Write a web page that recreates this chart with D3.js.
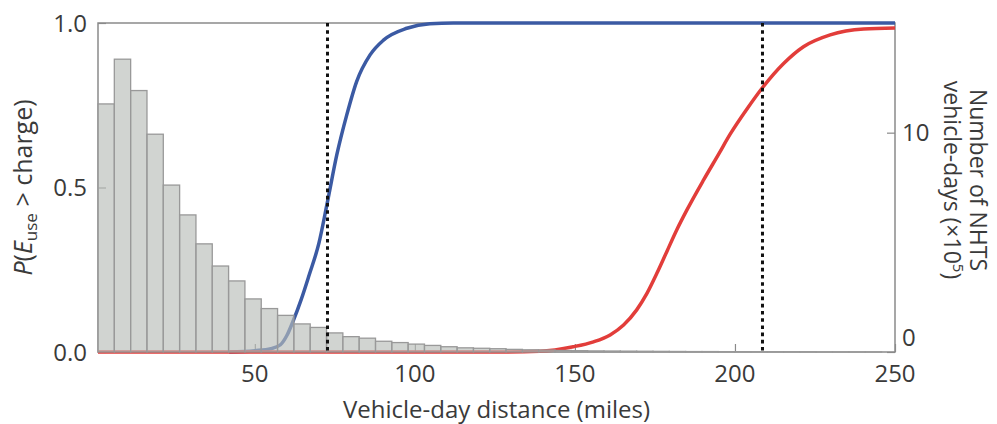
<!DOCTYPE html>
<html>
<head>
<meta charset="utf-8">
<script src="https://cdn.jsdelivr.net/npm/d3@7"></script>
<style>
  body { margin: 0; background: #fff; }
  text { font-family: "Open Sans", sans-serif; fill: #3a3a3a; }
</style>
</head>
<body>
<div id="chart"></div>
<script>
// histogram of vehicle-day distances (counts x10^5), bins of binWidth miles from binStart
const binStart = 1;
const binWidth = 5.1;
const binCounts = [11.31, 13.35, 11.92, 9.93, 7.61, 6.25, 4.93, 3.92, 3.24, 2.42, 1.98, 1.67,
    1.28, 1.12, 0.87, 0.70, 0.63, 0.49, 0.43, 0.36, 0.30, 0.24, 0.19, 0.17, 0.15, 0.12, 0.10,
    0.09, 0.07, 0.06, 0.05, 0.045, 0.04, 0.035, 0.03, 0.025, 0.02, 0.02, 0.015, 0.015, 0.01,
    0.01, 0.01, 0.01, 0.005, 0.005, 0.005, 0.005];

// P(E_use > charge), short-range vehicle (blue)
const blueMiles = [42, 50, 55, 58, 60, 62, 64.5, 67, 70, 72.7, 75.6, 78.7, 81.8, 86, 90.2, 97.5, 104.7, 112, 250];
const blueProb = [0, 0.004, 0.01, 0.022, 0.05, 0.095, 0.16, 0.235, 0.33, 0.457, 0.599, 0.72, 0.822, 0.903, 0.948, 0.984, 0.998, 1, 1];

// long-range vehicle (red)
const redMiles = [1, 128, 139, 149.5, 155.8, 161, 165.2, 169.3, 172.5, 175.6, 178.7, 181.8, 185, 190.2, 195, 198.5, 203.7, 208.4, 215.2, 221.4, 229.75, 240.2, 250];
const redProb = [0, 0, 0.002, 0.016, 0.031, 0.052, 0.082, 0.128, 0.178, 0.239, 0.305, 0.371, 0.432, 0.523, 0.603, 0.662, 0.738, 0.801, 0.877, 0.928, 0.964, 0.982, 0.985];

// dotted markers (vehicle ranges)
const rangeMarks = [72.7, 208.6];

const xTicks = [50, 100, 150, 200, 250];
const yTicks = [0, 0.5, 1];
const countTicks = [0, 10];

const width = 997, height = 424;
const margin = { top: 23, right: 102, bottom: 72, left: 98 };

const x = d3.scaleLinear().domain([1, 250]).range([margin.left, width - margin.right]);
const y = d3.scaleLinear().domain([0, 1]).range([height - margin.bottom, margin.top]);
const yCount = d3.scaleLinear().domain([0, 15]).range([height - margin.bottom, margin.top]);

const svg = d3.select("#chart").append("svg")
    .attr("width", width)
    .attr("height", height);

// plot frame
svg.append("rect")
    .attr("x", margin.left)
    .attr("y", margin.top)
    .attr("width", width - margin.left - margin.right)
    .attr("height", height - margin.top - margin.bottom)
    .attr("fill", "none")
    .attr("stroke", "#8a8a8a")
    .attr("stroke-width", 1.5);

// axes, ticks pointing inward
const xAxis = svg.append("g")
    .attr("transform", `translate(0,${height - margin.bottom})`)
    .call(d3.axisTop(x).tickValues(xTicks).tickSize(8).tickFormat(""));
xAxis.select(".domain").remove();
xAxis.selectAll("line").attr("stroke", "#8a8a8a").attr("stroke-width", 1.2);

svg.append("g")
    .selectAll("text")
    .data(xTicks)
    .join("text")
    .attr("x", d => x(d))
    .attr("y", height - margin.bottom + 30)
    .attr("text-anchor", "middle")
    .attr("font-size", 24)
    .text(d => d);

const yAxis = svg.append("g")
    .attr("transform", `translate(${margin.left},0)`)
    .call(d3.axisRight(y).tickValues(yTicks).tickSize(8).tickFormat(""));
yAxis.select(".domain").remove();
yAxis.selectAll("line").attr("stroke", "#8a8a8a").attr("stroke-width", 1.2);

svg.append("g")
    .selectAll("text")
    .data(yTicks)
    .join("text")
    .attr("x", margin.left - 11)
    .attr("y", d => y(d))
    .attr("dy", "0.36em")
    .attr("text-anchor", "end")
    .attr("font-size", 24)
    .text(d => d3.format(".1f")(d));

const rAxis = svg.append("g")
    .attr("transform", `translate(${width - margin.right},0)`)
    .call(d3.axisLeft(yCount).tickValues(countTicks).tickSize(8).tickFormat(""));
rAxis.select(".domain").remove();
rAxis.selectAll("line").attr("stroke", "#8a8a8a").attr("stroke-width", 1.2);

svg.append("g")
    .selectAll("text")
    .data(countTicks)
    .join("text")
    .attr("x", width - margin.right + 7)
    .attr("y", d => yCount(d) - (d === 0 ? 15 : 0))
    .attr("dy", "0.36em")
    .attr("font-size", 24)
    .text(d => d);

// curves
const line = d3.line()
    .x(d => x(d[0]))
    .y(d => y(d[1]))
    .curve(d3.curveMonotoneX);

svg.append("path")
    .datum(d3.zip(blueMiles, blueProb))
    .attr("fill", "none")
    .attr("stroke", "#3b5aa3")
    .attr("stroke-width", 3.5)
    .attr("d", line);

svg.append("path")
    .datum(d3.zip(redMiles, redProb))
    .attr("fill", "none")
    .attr("stroke", "#e23d3a")
    .attr("stroke-width", 3.5)
    .attr("d", line);

// histogram drawn over curves, semi transparent
svg.append("g")
    .selectAll("rect")
    .data(binCounts)
    .join("rect")
    .attr("x", (d, i) => x(binStart + i * binWidth))
    .attr("width", (d, i) => x(binStart + (i + 1) * binWidth) - x(binStart + i * binWidth))
    .attr("y", d => yCount(d))
    .attr("height", d => yCount(0) - yCount(d))
    .attr("fill", "#b8bdb8")
    .attr("fill-opacity", 0.65)
    .attr("stroke", "#999")
    .attr("stroke-width", 1.3);

// vehicle range markers
svg.append("g")
    .selectAll("line")
    .data(rangeMarks)
    .join("line")
    .attr("x1", d => x(d))
    .attr("x2", d => x(d))
    .attr("y1", y(1))
    .attr("y2", y(0))
    .attr("stroke", "#111")
    .attr("stroke-width", 3)
    .attr("stroke-dasharray", "3.6,3.6");

// axis titles
svg.append("text")
    .attr("x", (margin.left + width - margin.right) / 2)
    .attr("y", height - 6)
    .attr("text-anchor", "middle")
    .attr("font-size", 24)
    .text("Vehicle-day distance (miles)");

const leftTitle = svg.append("text")
    .attr("transform", `translate(32,${(margin.top + height - margin.bottom) / 2}) rotate(-90)`)
    .attr("text-anchor", "middle")
    .attr("font-size", 25);
leftTitle.append("tspan").attr("font-style", "italic").text("P");
leftTitle.append("tspan").text("(");
leftTitle.append("tspan").attr("font-style", "italic").text("E");
leftTitle.append("tspan").attr("font-size", 17).attr("dy", 5).text("use");
leftTitle.append("tspan").attr("dy", -5).text(" > charge)");

const rightTitle = svg.append("g")
    .attr("transform", `translate(970,180) rotate(90)`);
rightTitle.append("text")
    .attr("text-anchor", "middle")
    .attr("font-size", 23)
    .text("Number of NHTS");
const rt2 = rightTitle.append("text")
    .attr("y", 26)
    .attr("text-anchor", "middle")
    .attr("font-size", 23);
rt2.append("tspan").text("vehicle-days (×10");
rt2.append("tspan").attr("font-size", 15).attr("dy", -9).text("5");
rt2.append("tspan").attr("dy", 9).text(")");
</script>
</body>
</html>
